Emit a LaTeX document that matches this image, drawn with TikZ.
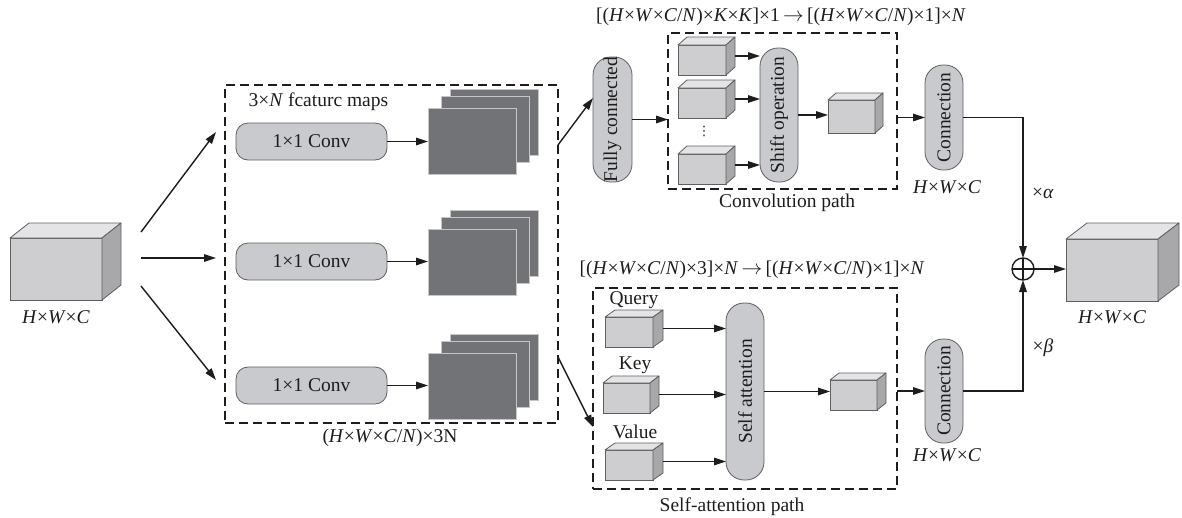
\documentclass[tikz,border=0pt]{standalone}
\usepackage{fontspec}
\setmainfont{Liberation Serif}
\newfontfamily\dvfont{DejaVu Sans}
\usetikzlibrary{arrows.meta,calc}
\definecolor{cfront}{RGB}{206,206,208}
\definecolor{ctop}{RGB}{228,228,230}
\definecolor{cside}{RGB}{168,168,171}
\definecolor{cpill}{RGB}{201,202,205}
\definecolor{cmap}{RGB}{114,115,119}
\definecolor{cline}{RGB}{30,28,29}
\definecolor{cedge}{RGB}{95,95,98}
\tikzset{
 every node/.style={font=\fontsize{19.5}{23}\selectfont, text=cline},
 cubefront/.style={draw=cedge, line width=0.8pt, fill=cfront, inner sep=0pt, outer sep=0pt, rectangle},
 cubetop/.style={draw=cedge, line width=0.8pt, fill=ctop, line join=round},
 cubeside/.style={draw=cedge, line width=0.8pt, fill=cside, line join=round},
 convbox/.style={draw=cedge, line width=0.8pt, fill=cpill, rounded corners=12pt, minimum width=151pt, minimum height=37pt, inner sep=0pt, outer sep=0pt},
 pill/.style={draw=cedge, line width=0.8pt, fill=cpill, rounded corners=18pt, inner sep=0pt, outer sep=0pt, rotate=90},
 mapsheet/.style={draw=gray!45, line width=0.6pt, fill=cmap, minimum width=88pt, minimum height=66pt, inner sep=0pt, outer sep=0pt, anchor=north west},
 dashbox/.style={draw=cline, dash pattern=on 9pt off 5pt, line width=1.3pt, inner sep=0pt, outer sep=0pt},
 conn/.style={draw=cline, line width=1.4pt, -{Triangle[length=12pt,width=7.5pt]}},
}
\newcommand\mkcube[7]{%
 \node[cubefront, minimum width=#4pt, minimum height=#5pt, anchor=north west] (#1) at (#2,#3) {};
 \path[cubetop] (#1.north west) -- ++(#6,-#7) -- ++(#4,0) -- (#1.north east) -- cycle;
 \path[cubeside] (#1.north east) -- ++(#6,-#7) -- ++(0,#5) -- (#1.south east) -- cycle;
 \coordinate (#1-r) at ($(#1.east)+(#6,-#7/2)$);
}
\newcommand\mkstack[3]{%
 \node[mapsheet] at (#2+22,#3-19) {};
 \node[mapsheet] at (#2+13,#3-12) {};
 \node[mapsheet] (#1) at (#2,#3) {};
}
\newcommand\HWC{\textit{H}×\textit{W}×\textit{C}}
\newcommand\HWCN{\textit{H}×\textit{W}×\textit{C}/\textit{N}}
\newcommand\rarr{\,$\rightarrow$\,}
\begin{document}
\begin{tikzpicture}[x=1pt,y=-1pt]
\useasboundingbox (0,0) rectangle (1182,517);
% input
\mkcube{inp}{10}{238}{92}{62}{19}{15}
\node (inpl) at (56,317) {\HWC};
\coordinate (i1) at (141,232); \coordinate (i2) at (141,258); \coordinate (i3) at (141,286);
\coordinate (e1) at (216,132); \coordinate (e2) at (216,258); \coordinate (e3) at (216,380);
\draw[conn] (i1) -- (e1);
\draw[conn] (i2) -- (e2);
\draw[conn] (i3) -- (e3);
% feature maps box
\node[dashbox, minimum width=333pt, minimum height=338pt] (fbox) at (391.5,254) {};
\node[anchor=west] (fml) at (245,102) {3×\textit{N} fcaturc maps};
\node (fbl) at (390,438) {(\HWCN)×3N};
\node[convbox] (cv1) at (311.5,141.5) {1×1 Conv};
\node[convbox] (cv2) at (311.5,261.5) {1×1 Conv};
\node[convbox] (cv3) at (311.5,385.5) {1×1 Conv};
\mkstack{m1}{428}{108}
\mkstack{m2}{428}{229}
\mkstack{m3}{428}{353}
\draw[conn] (cv1.east) -- (cv1.east -| m1.west);
\draw[conn] (cv2.east) -- (cv2.east -| m2.west);
\draw[conn] (cv3.east) -- (cv3.east -| m3.west);
% convolution path
\node[pill, minimum width=125pt, minimum height=39pt] (fc) at (612.5,119.5) {Fully connected};
\coordinate (f1) at (558,145); \coordinate (f2) at (558,357);
\draw[conn] (f1) -- ([yshift=21.5pt]fc.north);
\node[dashbox, minimum width=229pt, minimum height=156pt] (cbox) at (782.5,111) {};
\draw[conn] (fc.south) -- (fc.south -| cbox.west);
\node (cf) at (781,17) {[(\HWCN)×\textit{K}×\textit{K}]×1\rarr[(\HWCN)×1]×\textit{N}};
\node (cpl) at (787,203) {Convolution path};
\mkcube{k1}{678}{45}{48}{30}{9}{8}
\mkcube{k2}{678}{88}{48}{30}{9}{8}
\mkcube{k3}{678}{154}{48}{30}{9}{8}
\node[font=\dvfont\fontsize{13}{13}\selectfont] (dots) at (704,131) {⋮};
\node[pill, minimum width=134pt, minimum height=38pt] (sh) at (779,115) {Shift operation};
\draw[conn] (k1-r) -- (k1-r -| sh.north);
\draw[conn] (k2-r) -- (k2-r -| sh.north);
\draw[conn] (k3-r) -- (k3-r -| sh.north);
\mkcube{o1}{828}{100}{47}{33}{8}{7}
\draw[conn] (sh.south) -- (sh.south -| o1.west);
\node[pill, minimum width=105pt, minimum height=38pt] (cn1) at (944,117.5) {Connection};
\draw[conn] (cbox.east |- cn1.center) -- (cn1.north);
\node (cn1l) at (947,187) {\HWC};
% self-attention path
\node[dashbox, minimum width=304pt, minimum height=201pt] (sbox) at (745,388.5) {};
\draw[conn] (f2) -- ([yshift=-38.5pt]sbox.west);
\node (sf) at (752,270) {[(\HWCN)×3]×\textit{N}\rarr[(\HWCN)×1]×\textit{N}};
\node (spl) at (732,507) {Self-attention path};
\node (ql) at (634,300) {Query};
\node (kl) at (635,365) {Key};
\node (vl) at (635,432) {Value};
\mkcube{q}{605}{317}{48}{30}{10}{7}
\mkcube{kk}{603}{383}{47}{30}{9}{7}
\mkcube{v}{605}{450}{48}{30}{10}{7}
\node[pill, minimum width=177pt, minimum height=38pt] (sa) at (745,391.5) {Self attention};
\draw[conn] (q-r) -- (q-r -| sa.north);
\draw[conn] (kk-r) -- (kk-r -| sa.north);
\draw[conn] (v-r) -- (v-r -| sa.north);
\mkcube{o2}{830}{380}{47}{30}{9}{7}
\draw[conn] (sa.south) -- (sa.south -| o2.west);
\node[pill, minimum width=104pt, minimum height=38pt] (cn2) at (944,391) {Connection};
\draw[conn] (sbox.east |- cn2.center) -- (cn2.north);
\node (cn2l) at (947,455) {\HWC};
% merge
\node[circle, draw=cline, line width=1.4pt, minimum size=22pt, inner sep=0pt, outer sep=0pt] (op) at (1023,269) {};
\draw[cline, line width=1.4pt] (op.north) -- (op.south) (op.west) -- (op.east);
\draw[conn] (cn1.south) -| (op.north);
\draw[conn] (cn2.south) -| (op.south);
\node (al) at (1043,193) {×\textit{α}};
\node (bl) at (1043,348) {×\textit{β}};
\mkcube{big}{1066}{239}{92}{62}{21}{16}
\draw[conn] (op.east) -- (op.east -| big.west);
\node (bigl) at (1112,317) {\HWC};
\end{tikzpicture}
\end{document}
